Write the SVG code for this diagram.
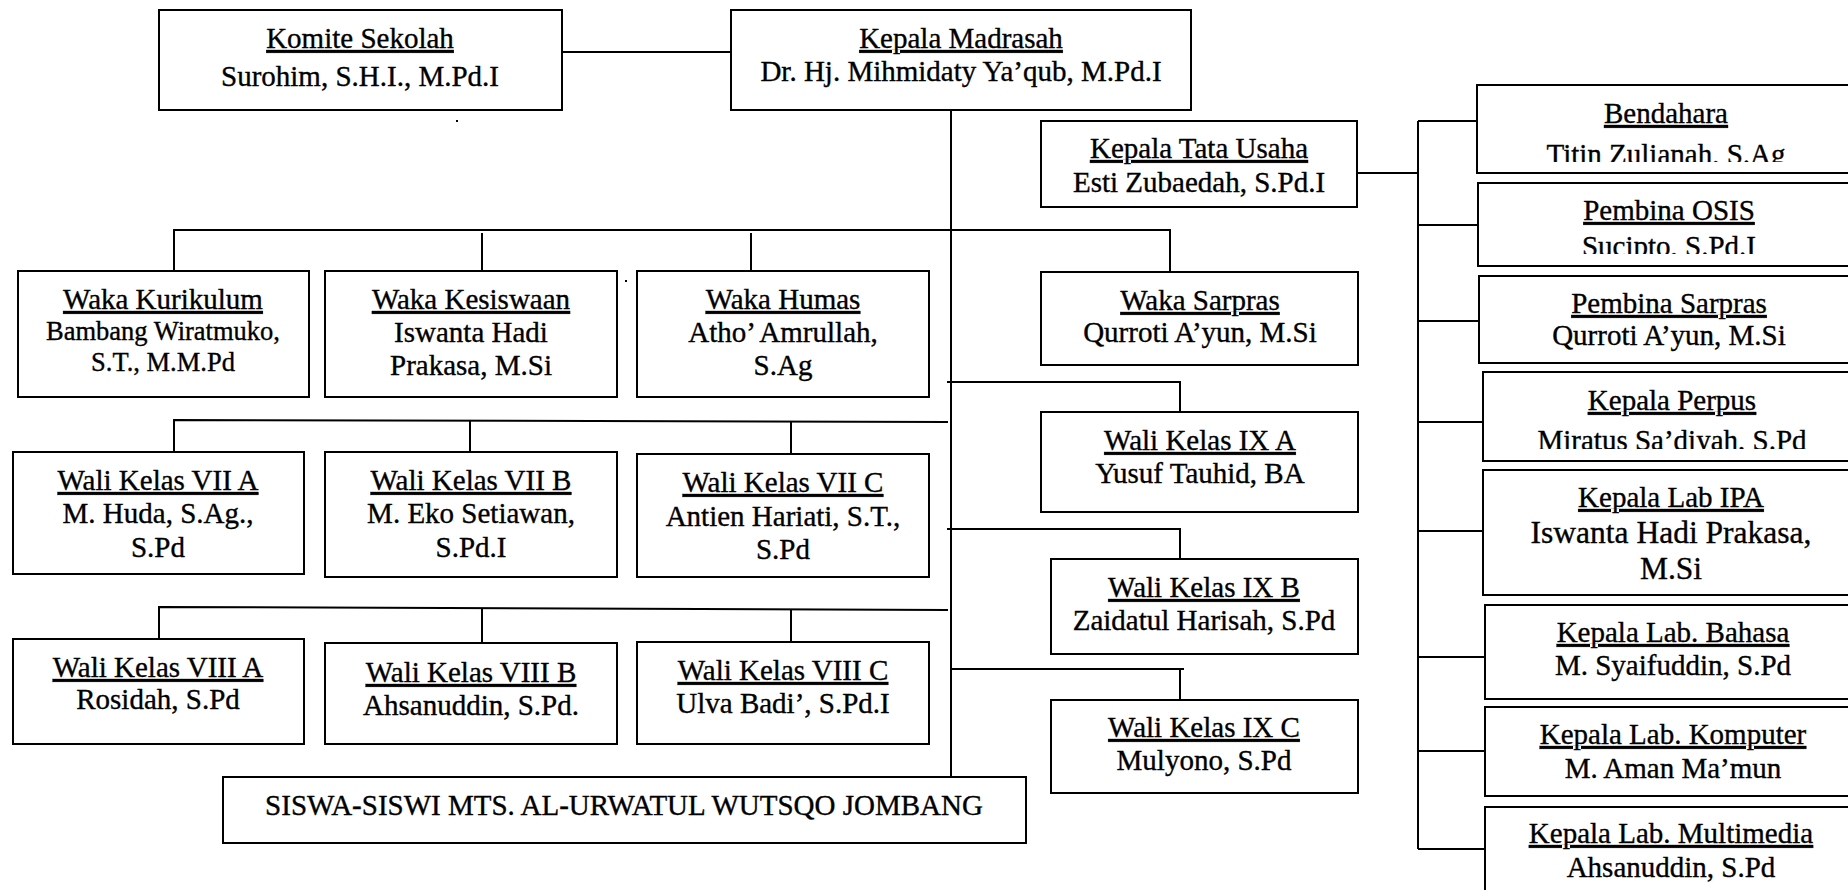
<svg xmlns="http://www.w3.org/2000/svg" width="1848" height="890" viewBox="0 0 1848 890">
<style>
  .box { fill: #fff; stroke: #000; stroke-width: 2; }
  .ln { fill: none; stroke: #000; stroke-width: 2; }
  text { font-family: "Liberation Serif", "Times New Roman", Times, serif; font-size: 29px; fill: #000; stroke: #000; stroke-width: 0.35; text-anchor: middle; }
  .t { text-decoration: underline; }
  .sm { font-size: 26.5px; }
  .lg { font-size: 31.5px; }
</style>
<defs>
  <clipPath id="cBend"><rect x="1470" y="80" width="400" height="82"/></clipPath>
  <clipPath id="cOsis"><rect x="1470" y="180" width="400" height="74"/></clipPath>
  <clipPath id="cPerp"><rect x="1470" y="370" width="400" height="79"/></clipPath>
</defs>
<rect width="1848" height="890" fill="#fff"/>

<g id="connectors">
  <path class="ln" d="M562 52 H731"/>
  <path class="ln" d="M951 110 V777"/>
  <path class="ln" d="M174 271 V230 H1170 V272"/>
  <path class="ln" d="M482 233 V271"/>
  <path class="ln" d="M751 233 V271"/>
  <path class="ln" d="M174 452 V420 L948 422"/>
  <path class="ln" d="M470 420 V452"/>
  <path class="ln" d="M791 422 V454"/>
  <path class="ln" d="M159 639 V607 L948 610"/>
  <path class="ln" d="M482 609 V643"/>
  <path class="ln" d="M791 610 V642"/>
  <path class="ln" d="M947 382 H1180 V412"/>
  <path class="ln" d="M947 529 H1180 V559"/>
  <path class="ln" d="M951 669 H1184 M1180 669 V700"/>
  <path class="ln" d="M1357 173 H1418"/>
  <path class="ln" d="M1418 121 V849"/>
  <path class="ln" d="M1418 121 H1486 M1418 225 H1483 M1418 321 H1486 M1418 422 H1486 M1418 531 H1483 M1418 657 H1485 M1418 751 H1485 M1418 849 H1485"/>
</g>

<g id="komite">
  <rect class="box" x="159" y="10" width="403" height="100"/>
  <text class="t" x="360" y="48">Komite Sekolah</text>
  <text x="360" y="86">Surohim, S.H.I., M.Pd.I</text>
</g>
<g id="kepala-madrasah">
  <rect class="box" x="731" y="10" width="460" height="100"/>
  <text class="t" x="961" y="48">Kepala Madrasah</text>
  <text x="961" y="81">Dr. Hj. Mihmidaty Ya’qub, M.Pd.I</text>
</g>
<g id="kepala-tata-usaha">
  <rect class="box" x="1041" y="121" width="316" height="86"/>
  <text class="t" x="1199" y="158">Kepala Tata Usaha</text>
  <text x="1199" y="192">Esti Zubaedah, S.Pd.I</text>
</g>

<g id="waka-kurikulum">
  <rect class="box" x="18" y="271" width="291" height="126"/>
  <text class="t" x="163" y="309">Waka Kurikulum</text>
  <text class="sm" x="163" y="340">Bambang Wiratmuko,</text>
  <text class="sm" x="163" y="371">S.T., M.M.Pd</text>
</g>
<g id="waka-kesiswaan">
  <rect class="box" x="325" y="271" width="292" height="126"/>
  <text class="t" x="471" y="309">Waka Kesiswaan</text>
  <text x="471" y="342">Iswanta Hadi</text>
  <text x="471" y="375">Prakasa, M.Si</text>
</g>
<g id="waka-humas">
  <rect class="box" x="637" y="271" width="292" height="126"/>
  <text class="t" x="783" y="309">Waka Humas</text>
  <text x="783" y="342">Atho’ Amrullah,</text>
  <text x="783" y="375">S.Ag</text>
</g>
<g id="waka-sarpras">
  <rect class="box" x="1041" y="272" width="317" height="93"/>
  <text class="t" x="1200" y="310">Waka Sarpras</text>
  <text x="1200" y="342">Qurroti A’yun, M.Si</text>
</g>

<g id="wali-vii-a">
  <rect class="box" x="13" y="452" width="291" height="122"/>
  <text class="t" x="158" y="490">Wali Kelas VII A</text>
  <text x="158" y="523">M. Huda, S.Ag.,</text>
  <text x="158" y="557">S.Pd</text>
</g>
<g id="wali-vii-b">
  <rect class="box" x="325" y="452" width="292" height="125"/>
  <text class="t" x="471" y="490">Wali Kelas VII B</text>
  <text x="471" y="523">M. Eko Setiawan,</text>
  <text x="471" y="557">S.Pd.I</text>
</g>
<g id="wali-vii-c">
  <rect class="box" x="637" y="454" width="292" height="123"/>
  <text class="t" x="783" y="492">Wali Kelas VII C</text>
  <text x="783" y="526">Antien Hariati, S.T.,</text>
  <text x="783" y="559">S.Pd</text>
</g>

<g id="wali-ix-a">
  <rect class="box" x="1041" y="412" width="317" height="100"/>
  <text class="t" x="1200" y="450">Wali Kelas IX A</text>
  <text x="1200" y="483">Yusuf Tauhid, BA</text>
</g>
<g id="wali-ix-b">
  <rect class="box" x="1051" y="559" width="307" height="95"/>
  <text class="t" x="1204" y="597">Wali Kelas IX B</text>
  <text x="1204" y="630">Zaidatul Harisah, S.Pd</text>
</g>
<g id="wali-ix-c">
  <rect class="box" x="1051" y="700" width="307" height="93"/>
  <text class="t" x="1204" y="737">Wali Kelas IX C</text>
  <text x="1204" y="770">Mulyono, S.Pd</text>
</g>

<g id="wali-viii-a">
  <rect class="box" x="13" y="639" width="291" height="105"/>
  <text class="t" x="158" y="677">Wali Kelas VIII A</text>
  <text x="158" y="709">Rosidah, S.Pd</text>
</g>
<g id="wali-viii-b">
  <rect class="box" x="325" y="643" width="292" height="101"/>
  <text class="t" x="471" y="682">Wali Kelas VIII B</text>
  <text x="471" y="715">Ahsanuddin, S.Pd.</text>
</g>
<g id="wali-viii-c">
  <rect class="box" x="637" y="642" width="292" height="102"/>
  <text class="t" x="783" y="680">Wali Kelas VIII C</text>
  <text x="783" y="713">Ulva Badi’, S.Pd.I</text>
</g>

<g id="siswa">
  <rect class="box" x="223" y="777" width="803" height="66"/>
  <text x="624" y="815">SISWA-SISWI MTS. AL-URWATUL WUTSQO JOMBANG</text>
</g>

<g id="bendahara">
  <rect class="box" x="1477" y="85" width="400" height="88"/>
  <text class="t" x="1666" y="123">Bendahara</text>
  <text x="1666" y="164" clip-path="url(#cBend)">Titin Zulianah, S.Ag</text>
</g>
<g id="pembina-osis">
  <rect class="box" x="1478" y="183" width="400" height="83"/>
  <text class="t" x="1669" y="220">Pembina OSIS</text>
  <text x="1669" y="256" clip-path="url(#cOsis)">Sucipto, S.Pd.I</text>
</g>
<g id="pembina-sarpras">
  <rect class="box" x="1479" y="276" width="400" height="87"/>
  <text class="t" x="1669" y="313">Pembina Sarpras</text>
  <text x="1669" y="345">Qurroti A’yun, M.Si</text>
</g>
<g id="kepala-perpus">
  <rect class="box" x="1483" y="372" width="400" height="89"/>
  <text class="t" x="1672" y="410">Kepala Perpus</text>
  <text x="1672" y="450" clip-path="url(#cPerp)">Miratus Sa’diyah, S.Pd</text>
</g>
<g id="kepala-lab-ipa">
  <rect class="box" x="1483" y="470" width="400" height="125"/>
  <text class="t" x="1671" y="507">Kepala Lab IPA</text>
  <text class="lg" x="1671" y="543">Iswanta Hadi Prakasa,</text>
  <text class="lg" x="1671" y="579">M.Si</text>
</g>
<g id="kepala-lab-bahasa">
  <rect class="box" x="1485" y="605" width="400" height="94"/>
  <text class="t" x="1673" y="642">Kepala Lab. Bahasa</text>
  <text x="1673" y="675">M. Syaifuddin, S.Pd</text>
</g>
<g id="kepala-lab-komputer">
  <rect class="box" x="1485" y="707" width="400" height="89"/>
  <text class="t" x="1673" y="744">Kepala Lab. Komputer</text>
  <text x="1673" y="778">M. Aman Ma’mun</text>
</g>
<g id="kepala-lab-multimedia">
  <rect class="box" x="1485" y="807" width="400" height="120"/>
  <text class="t" x="1671" y="843">Kepala Lab. Multimedia</text>
  <text x="1671" y="877">Ahsanuddin, S.Pd</text>
</g>

<rect x="456" y="120" width="2" height="2" fill="#000"/>
<rect x="625" y="280" width="2" height="2" fill="#000"/>
</svg>
